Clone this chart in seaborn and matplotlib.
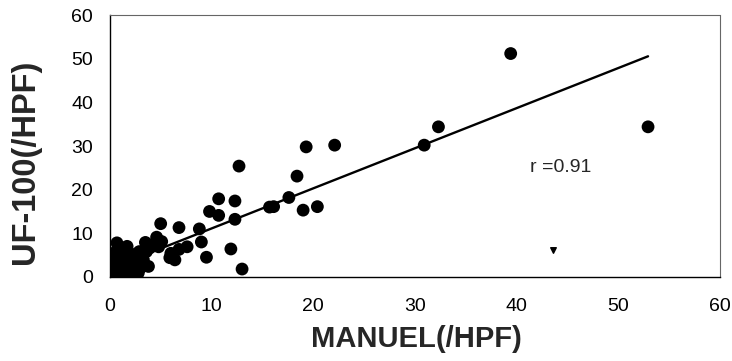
import numpy as np
import pandas as pd
import matplotlib
matplotlib.use("Agg")
import matplotlib.pyplot as plt
import seaborn as sns

# valeurs (MANUEL vs UF-100, /HPF)
manuel = [52.9, 39.4, 32.3, 30.9, 22.1, 19.3, 12.7, 18.4, 17.6, 15.7, 16.1, 19.0,
          20.4, 10.7, 12.3, 9.8, 10.7, 12.3, 13.0, 11.9, 9.0, 8.8, 6.8, 5.0,
          7.6, 6.8, 9.5, 5.9, 6.4, 5.1, 4.6, 3.5, 4.4, 4.8, 0.7, 1.7, 3.9,
          6.0, 3.6, 3.3, 3.8,
          0.1, 0.2, 0.3, 0.5, 0.4, 0.6, 0.2, 0.8, 1.0, 1.2, 0.9, 1.4, 1.5,
          1.8, 1.6, 2.0, 2.2, 2.4, 2.6, 2.8, 3.0, 1.1, 0.5, 2.1, 2.5, 1.3,
          0.3, 0.7, 1.9, 3.2, 2.9, 0.1, 1.0, 2.3, 0.6]
uf100 = [34.4, 51.2, 34.4, 30.2, 30.2, 29.8, 25.4, 23.1, 18.2, 16.0, 16.1, 15.3,
         16.1, 17.9, 17.4, 15.0, 14.1, 13.2, 1.8, 6.4, 8.0, 11.0, 11.3, 12.2,
         6.9, 6.3, 4.5, 4.4, 3.9, 8.1, 9.1, 7.9, 7.6, 6.9, 7.8, 7.0, 6.6,
         5.4, 5.8, 3.9, 2.4,
         0.2, 0.5, 1.0, 0.3, 1.8, 2.5, 3.0, 0.8, 1.5, 0.4, 2.2, 2.8, 1.0,
         0.6, 3.5, 1.8, 2.6, 1.2, 3.2, 0.9, 2.0, 4.0, 4.5, 4.4, 5.2, 5.5,
         2.2, 3.6, 2.4, 4.6, 5.8, 1.2, 0.1, 0.3, 5.8]
# petit point isolé (marqueur différent)
isole_x = [43.6]
isole_y = [6.2]
r_texte = "r =0.91"

df = pd.DataFrame({"MANUEL": manuel, "UF100": uf100})

sns.set_style("white")
plt.rcParams["font.family"] = ["Liberation Sans", "DejaVu Sans"]

fig = plt.figure(figsize=(7.32, 3.61), dpi=100)
ax = fig.add_axes([0.150, 0.233, 0.834, 0.725])

sns.scatterplot(data=df, x="MANUEL", y="UF100", ax=ax, color="black",
                s=85, edgecolor="none", zorder=3)
sns.regplot(data=df, x="MANUEL", y="UF100", ax=ax, scatter=False, ci=None,
            truncate=True, line_kws={"color": "black", "lw": 1.7})
ax.scatter(isole_x, isole_y, marker="v", s=16, color="black", zorder=3)

ax.text(44.3, 25.0, r_texte, fontsize=14, ha="center", va="center")

ax.set_xlim(0, 60)
ax.set_ylim(0, 60)
ax.set_xticks(range(0, 61, 10))
ax.set_yticks(range(0, 61, 10))
ax.tick_params(axis="both", direction="out", length=4, width=0.8,
               labelsize=14, colors="black", pad=8)
ax.tick_params(axis="x", pad=11)

ax.set_xlabel("MANUEL(/HPF)", fontsize=21, fontweight="bold")
ax.set_ylabel("UF-100(/HPF)", fontsize=23.5, fontweight="bold")
ax.xaxis.set_label_coords(0.502, -0.185)
ax.yaxis.set_label_coords(-0.113, 0.44)

for side in ["left", "bottom"]:
    ax.spines[side].set_color("black")
    ax.spines[side].set_linewidth(1.0)
for side in ["top", "right"]:
    ax.spines[side].set_color("#666666")
    ax.spines[side].set_linewidth(0.8)
    ax.spines[side].set_linestyle((0, (3, 1)))

fig.savefig("out.png", dpi=100)
